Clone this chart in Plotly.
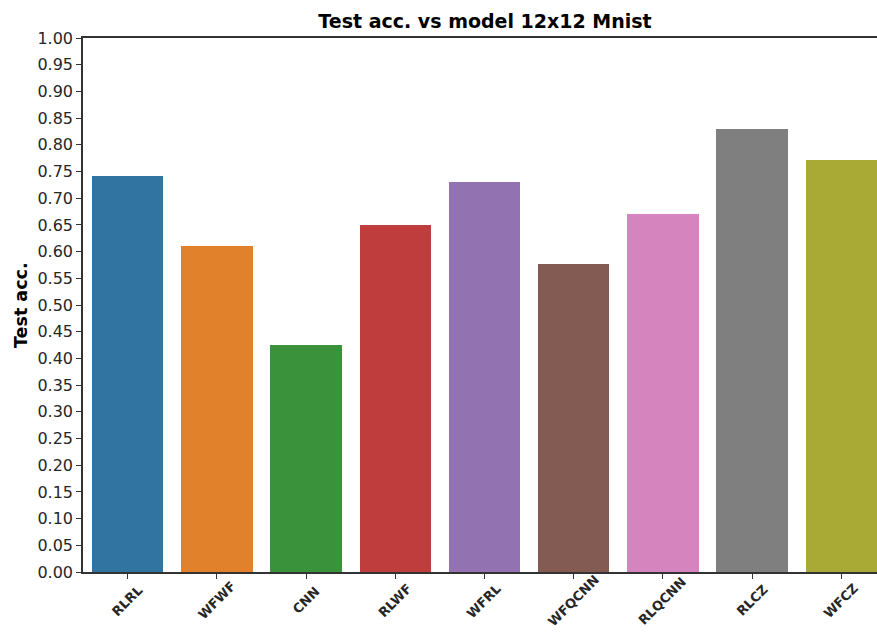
import plotly.graph_objects as go

# Model names and their test accuracy on 12x12 MNIST
models = ["RLRL", "WFWF", "CNN", "RLWF", "WFRL", "WFQCNN", "RLQCNN", "RLCZ", "WFCZ"]
test_acc = [0.742, 0.610, 0.425, 0.649, 0.731, 0.577, 0.670, 0.830, 0.772]
colors = ["#3274a1", "#e1812c", "#3a923a", "#c03d3e", "#9372b2",
          "#845b53", "#d684bd", "#7f7f7f", "#a9aa35"]
y_ticks = [round(i * 0.05, 2) for i in range(21)]

W, H = 877, 634
L, R, T, B = 83, 0, 38, 62
font_family = "DejaVu Sans"
axis_color = "#333333"
text_color = "#262626"

fig = go.Figure()
fig.add_trace(go.Bar(
    x=list(range(len(models))),
    y=test_acc,
    width=0.8,
    marker=dict(color=colors, line=dict(width=0)),
    hoverinfo="x+y",
))

# Rotated category labels centred under each tick
for i, name in enumerate(models):
    fig.add_annotation(
        x=i, xref="x", y=-0.054, yref="paper",
        text=f"<b>{name}</b>", textangle=-45, showarrow=False,
        xanchor="center", yanchor="middle",
        font=dict(family=font_family, size=13, color=text_color),
    )

# Y-axis label
fig.add_annotation(
    x=-62 / (W - L - R), xref="paper", y=0.5, yref="paper",
    text="<b>Test acc.</b>", textangle=-90, showarrow=False,
    xanchor="center", yanchor="middle",
    font=dict(family=font_family, size=17.5, color="black"),
)

fig.update_layout(
    width=W, height=H,
    margin=dict(l=L, r=R, t=T, b=B, pad=0),
    paper_bgcolor="white", plot_bgcolor="white",
    showlegend=False,
    bargap=0,
    title=dict(
        text="<b>Test acc. vs model 12x12 Mnist</b>",
        x=(485 - L) / (W - L - R), xref="paper", xanchor="center",
        y=1 - 21 / H, yref="container", yanchor="middle",
        font=dict(family=font_family, size=19, color="black"),
    ),
    font=dict(family=font_family, color=text_color),
    xaxis=dict(
        range=[-0.5, 8.4],
        tickmode="array", tickvals=list(range(len(models))),
        showticklabels=False,
        ticks="outside", ticklen=5, tickwidth=1.2, tickcolor=axis_color,
        showline=True, linecolor=axis_color, linewidth=1.5, mirror=True,
        showgrid=False, zeroline=False, fixedrange=True,
    ),
    yaxis=dict(
        range=[0, 1.0],
        tickmode="array", tickvals=y_ticks,
        ticktext=[f"{v:.2f}" for v in y_ticks],
        tickfont=dict(family=font_family, size=16, color=text_color),
        ticks="outside", ticklen=5, tickwidth=1.2, tickcolor=axis_color,
        showline=True, linecolor=axis_color, linewidth=1.5, mirror=False,
        showgrid=False, zeroline=False, fixedrange=True,
    ),
)

fig.write_html("out.html")
